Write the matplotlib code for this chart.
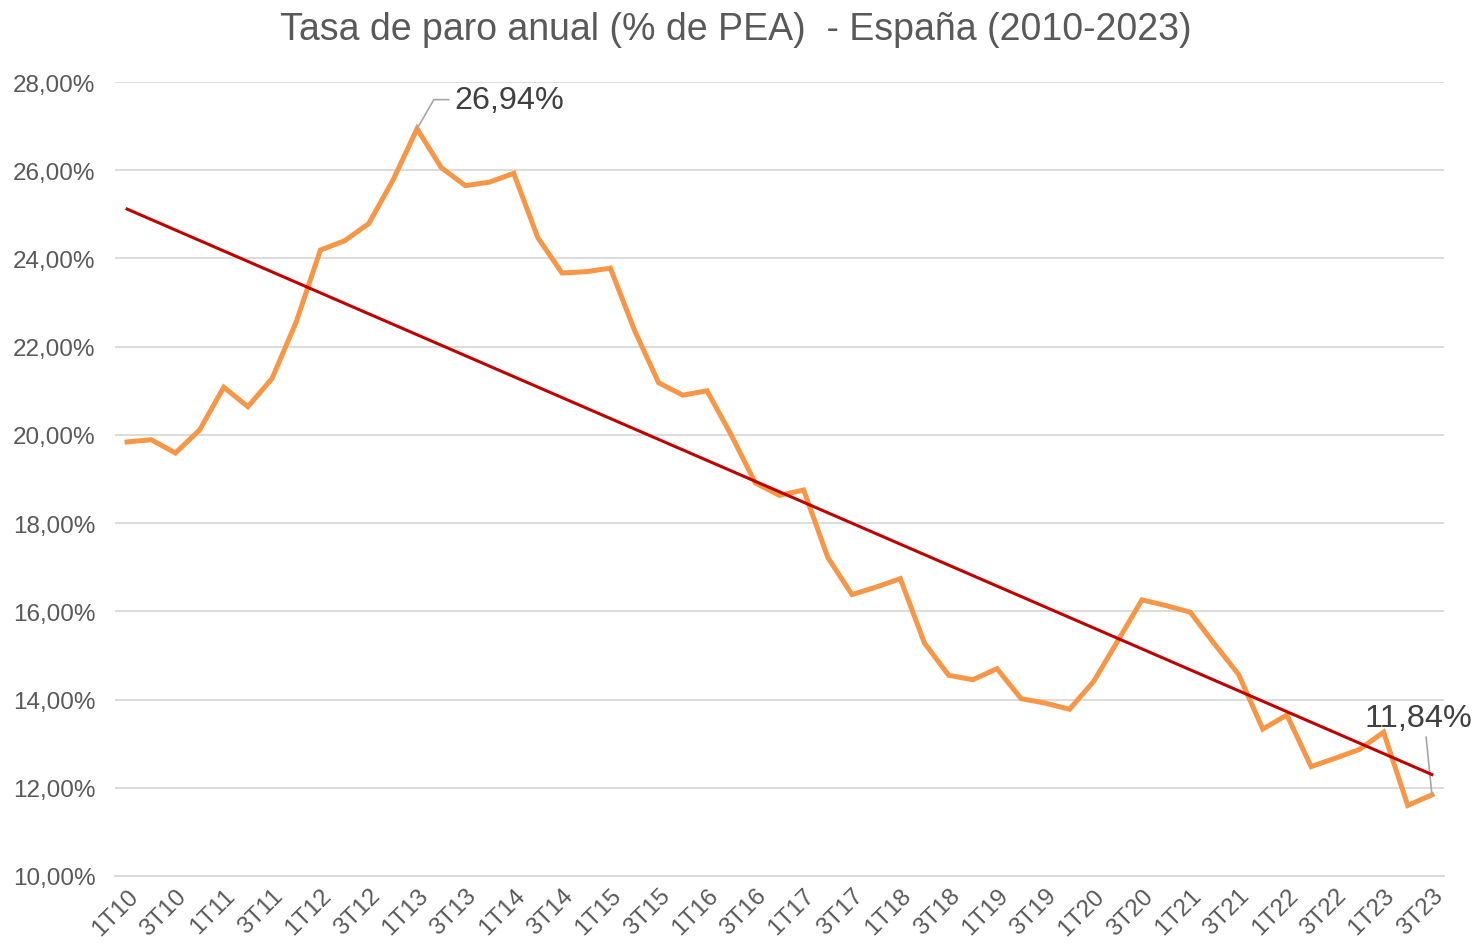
import matplotlib
matplotlib.use("Agg")
import matplotlib.pyplot as plt
import numpy as np

# Quarterly unemployment rate (EPA), 1T10 .. 3T23
quarters = [f"{q}T{y:02d}" for y in range(10, 24) for q in range(1, 5)][:55]
paro = [19.84, 19.89, 19.59, 20.11,
        21.08, 20.64, 21.28, 22.56,
        24.19, 24.40, 24.79, 25.77,
        26.94, 26.06, 25.65, 25.73,
        25.93, 24.47, 23.67, 23.70,
        23.78, 22.37, 21.18, 20.90,
        21.00, 20.00, 18.91, 18.63,
        18.75, 17.22, 16.38, 16.55,
        16.74, 15.28, 14.55, 14.45,
        14.70, 14.02, 13.92, 13.78,
        14.41, 15.33, 16.26, 16.13,
        15.98, 15.26, 14.57, 13.33,
        13.65, 12.48, 12.67, 12.87,
        13.26, 11.60, 11.84]
y_ticks = [10, 12, 14, 16, 18, 20, 22, 24, 26, 28]

plt.rcParams['font.family'] = ['Liberation Sans', 'DejaVu Sans']
grey = '#595959'

fig = plt.figure(figsize=(14.72, 9.45), dpi=100)
ax = fig.add_axes([115 / 1472, 1 - 877 / 945, (1444 - 115) / 1472, (877 - 83) / 945])

x = np.arange(len(paro))
ax.plot(x, paro, color='#F79646', lw=3.6, solid_joinstyle='miter', zorder=3)

# linear trend
slope, icpt = np.polyfit(x, paro, 1)
ax.plot(x, slope * x + icpt, color='#C00000', lw=2.2, zorder=4)

ax.set_xlim(-0.5, len(paro) - 0.5)
ax.set_ylim(10, 28)
ax.set_yticks(y_ticks)
ax.set_yticklabels([f"{v:.2f}%".replace('.', ',') for v in y_ticks])
ax.set_xticks(x[::2])
ax.set_xticklabels(quarters[::2], rotation=45, ha='right', va='top',
                   rotation_mode='anchor')
ax.tick_params(axis='both', length=0, labelsize=17.5, colors=grey)
ax.tick_params(axis='y', pad=14)
ax.tick_params(axis='x', pad=6)
ax.grid(axis='y', color='#D9D9D9', lw=1.3)
ax.set_axisbelow(True)
for s in ax.spines.values():
    s.set_visible(False)
ax.spines['bottom'].set_visible(True)
ax.spines['bottom'].set_color('#D9D9D9')
ax.spines['bottom'].set_linewidth(1.3)

# data labels for max and last value
imax = int(np.argmax(paro))
ax.annotate(f"{paro[imax]:.2f}%".replace('.', ','), xy=(imax, paro[imax]),
            xytext=(imax + 1.55, 27.6), fontsize=23.3, color='#404040',
            va='center', ha='left',
            arrowprops=dict(arrowstyle='-', color='#A6A6A6', lw=1.2,
                            connectionstyle='angle,angleA=0,angleB=60,rad=0',
                            shrinkA=2, shrinkB=0))
ilast = len(paro) - 1
ax.annotate(f"{paro[ilast]:.2f}%".replace('.', ','), xy=(ilast, paro[ilast]),
            xytext=(-67, 77), textcoords='offset pixels', fontsize=23.3,
            color='#404040', va='center', ha='left', annotation_clip=False,
            arrowprops=dict(arrowstyle='-', color='#A6A6A6', lw=1.2,
                            relpos=(0.55, 0.5), shrinkA=1, shrinkB=0))

fig.text(0.5, 1 - 30 / 945, "Tasa de paro anual (% de PEA)  - España (2010-2023)",
         ha='center', va='center', fontsize=27, color=grey)

fig.savefig("out.png", dpi=100)
